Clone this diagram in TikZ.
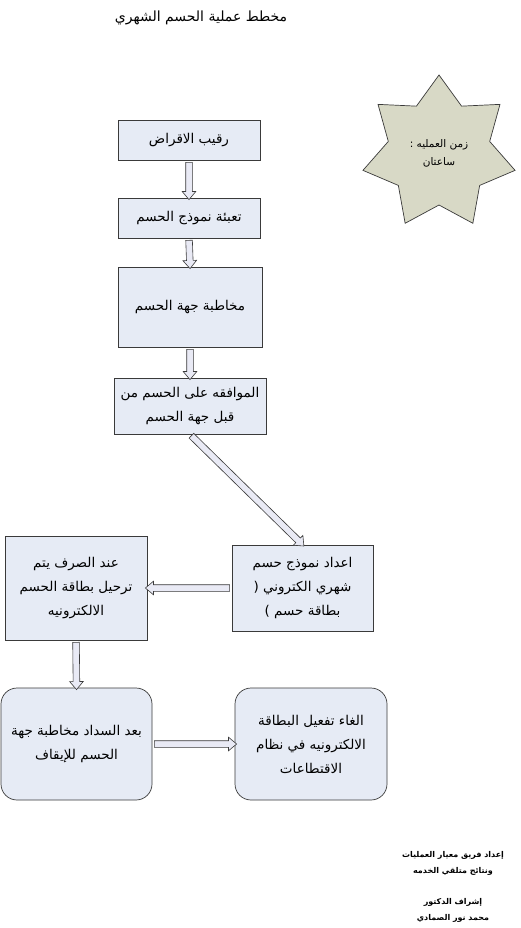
\documentclass[tikz,border=0pt]{standalone}
\usepackage{fontspec}
\newfontfamily\arabicfont[Script=Arabic]{DejaVu Sans}
\TeXXeTstate=1
\usetikzlibrary{shapes.geometric, shapes.arrows, calc}

\definecolor{boxfill}{HTML}{E6EBF5}
\definecolor{starfill}{HTML}{D8D9C6}
\definecolor{arrowfill}{HTML}{E9EAF5}
\definecolor{edgegray}{HTML}{3A3A3A}

\newcommand\rl[1]{\beginR #1\endR}
\newcommand\flowarrow[2]{%
  \path let \p1=($(#2)-(#1)$), \n1={veclen(\x1,\y1)} in
    (#1) -- (#2) node[midway, sloped, allow upside down, blockarrow,
                      minimum height=\n1] {};}

\begin{document}
\begin{tikzpicture}[
  x=1pt, y=-1pt,
  every node/.style={font=\arabicfont\fontsize{13.5}{24}\selectfont},
  box/.style={draw=edgegray, fill=boxfill, line width=0.7pt, align=center,
              inner sep=0pt},
  roundbox/.style={box, rounded corners=16pt},
  blockarrow/.style={single arrow, draw=edgegray, fill=arrowfill,
                     line width=0.6pt, inner xsep=0pt, inner ysep=3pt,
                     minimum width=0pt, single arrow head extend=3.5pt,
                     single arrow tip angle=80, single arrow head indent=0pt},
  note/.style={font=\arabicfont\bfseries\fontsize{8}{16}\selectfont, align=center}
]
\useasboundingbox[fill=white] (0,0) rectangle (521,928);

%% Title
\node (title) at (201,18) {\fontsize{14}{16}\selectfont\rl{مخطط عملية  الحسم الشهري}};

%% Boxes
\node[box, minimum width=142, minimum height=40] (limit)   at (189,140)
  {\rl{رقيب الاقراض}};
\node[box, minimum width=142, minimum height=40] (fill)    at (189,218)
  {\rl{تعبئة نموذج الحسم}};
\node[box, minimum width=144, minimum height=80] (contact) at (190,307)
  {\rl{مخاطبة جهة الحسم}};
\node[box, minimum width=152, minimum height=56] (approve) at (190,406)
  {\rl{الموافقه على الحسم من}\\\rl{قبل جهة الحسم}};
\node[box, minimum width=141, minimum height=86] (card)    at (302.5,588)
  {\rl{اعداد نموذج حسم}\\\rl{شهري الكتروني (}\\\rl{بطاقة حسم )}};
\node[box, minimum width=142, minimum height=104] (post)   at (76,588)
  {\rl{عند الصرف يتم}\\\rl{ترحيل بطاقة الحسم}\\\rl{الالكترونيه}};
\node[roundbox, minimum width=151, minimum height=112] (stop) at (76.5,744)
  {\rl{بعد السداد مخاطبة جهة}\\\rl{الحسم للإيقاف}};
\node[roundbox, minimum width=152, minimum height=112] (cancel) at (311,744)
  {\rl{الغاء تفعيل البطاقة}\\\rl{الالكترونيه في نظام}\\\rl{الاقتطاعات}};

%% Star
\node[star, star points=7, star point ratio=1.5, minimum size=156,
      draw=edgegray, fill=starfill, line width=0.7pt, align=center,
      font=\arabicfont\fontsize{10.5}{18}\selectfont] (time) at (439,153)
  {\rl{زمن العمليه :}\\\rl{ساعتان}};

%% Arrows
\flowarrow{limit.south}{fill.north}
\flowarrow{fill.south}{contact.north}
\flowarrow{contact.south}{approve.north}
\flowarrow{approve.south}{card.north}
\flowarrow{card.west}{post.east}
\flowarrow{post.south}{stop.north}
\flowarrow{stop.east}{cancel.west}

%% Footer
\node[note] (team) at (453,863)
  {\rl{إعداد فريق معيار العمليات}\\\rl{ونتائج متلقي الخدمه}};
\node[note] (chief) at (453,910)
  {\rl{إشراف الدكتور}\\\rl{محمد نور الصمادي}};

\end{tikzpicture}
\end{document}
